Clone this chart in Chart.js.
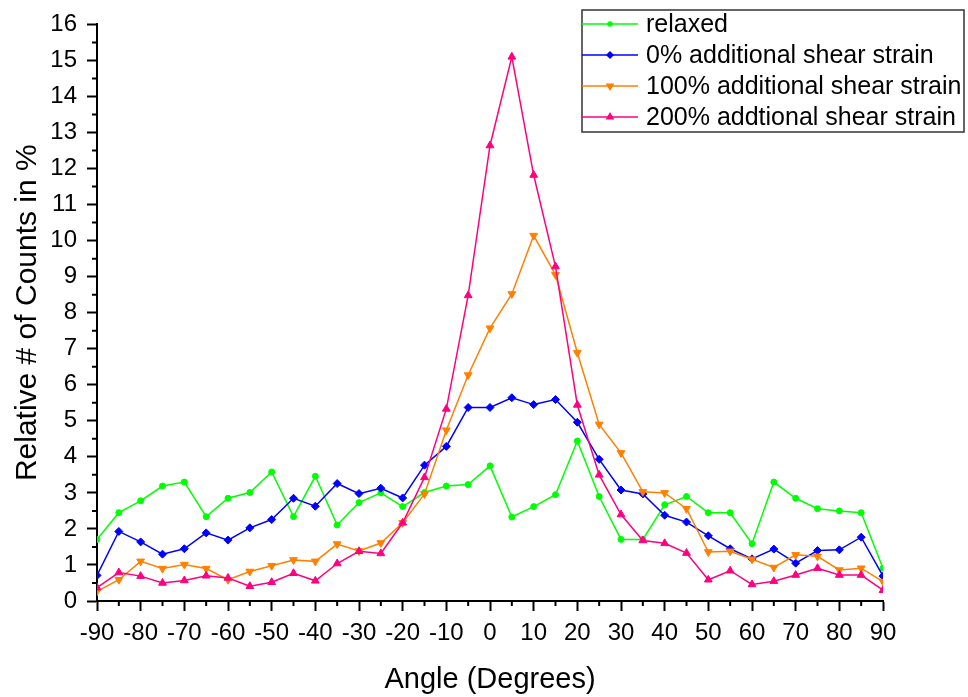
<!DOCTYPE html>
<html>
<head>
<meta charset="utf-8">
<script src="https://cdn.jsdelivr.net/npm/chart.js@4/dist/chart.umd.min.js"></script>
<style>
  html, body { margin: 0; padding: 0; background: #fff; }
  #wrap { width: 968px; height: 697px; }
</style>
</head>
<body>
<div id="wrap"><canvas id="myChart" width="968" height="697"></canvas></div>
<script>
// angles in degrees, one point every 5
var angles = [-90, -85, -80, -75, -70, -65, -60, -55, -50, -45, -40, -35,
  -30, -25, -20, -15, -10, -5, 0, 5, 10, 15, 20, 25,
  30, 35, 40, 45, 50, 55, 60, 65, 70, 75, 80, 85, 90];

var relaxed = [1.71, 2.45, 2.78, 3.19, 3.30, 2.34, 2.85, 3.01, 3.58, 2.34, 3.46, 2.11,
  2.73, 3.00, 2.62, 3.01, 3.19, 3.23, 3.75, 2.33, 2.62, 2.95, 4.44, 2.90,
  1.71, 1.71, 2.67, 2.90, 2.45, 2.45, 1.59, 3.30, 2.85, 2.56, 2.50, 2.45, 0.91];

var shear0 = [0.71, 1.93, 1.64, 1.30, 1.45, 1.89, 1.69, 2.03, 2.26, 2.85, 2.63, 3.26,
  2.98, 3.13, 2.86, 3.77, 4.29, 5.37, 5.37, 5.64, 5.45, 5.59, 4.96, 3.93,
  3.08, 2.97, 2.38, 2.19, 1.81, 1.45, 1.17, 1.44, 1.05, 1.40, 1.42, 1.77, 0.69];

var shear100 = [0.27, 0.59, 1.10, 0.90, 1.01, 0.90, 0.59, 0.82, 0.98, 1.14, 1.10, 1.58,
  1.39, 1.61, 2.17, 2.97, 4.74, 6.27, 7.57, 8.52, 10.14, 9.05, 6.89, 4.90,
  4.11, 3.03, 3.00, 2.56, 1.36, 1.38, 1.16, 0.93, 1.28, 1.24, 0.86, 0.91, 0.54];

var shear200 = [0.37, 0.79, 0.69, 0.50, 0.57, 0.70, 0.64, 0.41, 0.52, 0.77, 0.56, 1.04,
  1.38, 1.32, 2.17, 3.43, 5.33, 8.48, 12.64, 15.10, 11.82, 9.28, 5.44, 3.50,
  2.40, 1.68, 1.60, 1.33, 0.59, 0.84, 0.46, 0.55, 0.72, 0.91, 0.72, 0.72, 0.30];

var seriesNames = ["relaxed", "0% additional shear strain",
  "100% additional shear strain", "200% addtional shear strain"];

var FONT = "'Liberation Sans', Arial, sans-serif";

function pts(ys) {
  return angles.map(function (a, i) { return { x: a, y: ys[i] }; });
}

function makeSet(label, ys, color, style, radius, rot, order) {
  return {
    label: label,
    data: pts(ys),
    borderColor: color,
    backgroundColor: color,
    borderWidth: 1.5,
    pointStyle: style,
    pointRadius: radius,
    pointRotation: rot,
    pointBorderWidth: 1,
    pointBackgroundColor: color,
    pointBorderColor: color,
    tension: 0,
    order: order
  };
}

// minor ticks (Chart.js can't do two tick lengths)
var minorTicks = {
  id: "minorTicks",
  afterDraw: function (chart) {
    var ctx = chart.ctx;
    var xs = chart.scales.x, ys = chart.scales.y;
    ctx.save();
    ctx.strokeStyle = "#000";
    ctx.lineWidth = 2;
    ctx.beginPath();
    for (var v = -85; v <= 85; v += 10) {
      var px = xs.getPixelForValue(v);
      ctx.moveTo(px, xs.top);
      ctx.lineTo(px, xs.top + 5);
    }
    for (var w = 0.5; w < 16; w += 1) {
      var py = ys.getPixelForValue(w);
      ctx.moveTo(ys.right, py);
      ctx.lineTo(ys.right - 5, py);
    }
    ctx.stroke();
    ctx.restore();
  }
};

// legend box in the top right corner, like the original
var boxLegend = {
  id: "boxLegend",
  afterDraw: function (chart) {
    var ctx = chart.ctx;
    var x0 = 582, y0 = 10, w = 382, h = 122;
    ctx.save();
    ctx.fillStyle = "#fff";
    ctx.fillRect(x0, y0, w, h);
    ctx.strokeStyle = "#333";
    ctx.lineWidth = 1.5;
    ctx.strokeRect(x0, y0, w, h);
    chart.data.datasets.forEach(function (ds, i) {
      var cy = y0 + 14 + i * 31;
      ctx.strokeStyle = ds.borderColor;
      ctx.lineWidth = 1.5;
      ctx.beginPath();
      ctx.moveTo(x0, cy);
      ctx.lineTo(x0 + 56, cy);
      ctx.stroke();
      ctx.fillStyle = ds.borderColor;
      Chart.helpers.drawPoint(ctx, {
        pointStyle: ds.pointStyle, radius: ds.pointRadius - 1,
        rotation: ds.pointRotation, borderWidth: 1
      }, x0 + 28, cy);
      ctx.fillStyle = "#000";
      ctx.font = "25px " + FONT;
      ctx.textBaseline = "middle";
      ctx.textAlign = "left";
      ctx.fillText(ds.label, x0 + 64, cy + 1);
    });
    ctx.restore();
  }
};

var ctx = document.getElementById("myChart").getContext("2d");
var myChart = new Chart(ctx, {
  type: "line",
  data: {
    datasets: [
      makeSet(seriesNames[0], relaxed, "#00ff00", "circle", 3, 0, 4),
      makeSet(seriesNames[1], shear0, "#0000ff", "rectRot", 4, 0, 3),
      makeSet(seriesNames[2], shear100, "#ff8000", "triangle", 4.5, 180, 2),
      makeSet(seriesNames[3], shear200, "#ff0080", "triangle", 4.5, 0, 1)
    ]
  },
  plugins: [minorTicks, boxLegend],
  options: {
    responsive: false,
    animation: false,
    layout: { padding: { left: 0, right: 85, top: 22, bottom: 0 } },
    plugins: { legend: { display: false }, tooltip: { enabled: false } },
    scales: {
      x: {
        type: "linear",
        min: -90,
        max: 90,
        afterFit: function (s) { s.height = 96; },
        ticks: { stepSize: 10, padding: 8, color: "#000", font: { family: FONT, size: 24 } },
        grid: { drawOnChartArea: false, drawTicks: true, tickLength: 10, tickWidth: 2, tickColor: "#000" },
        border: { display: true, color: "#000", width: 2 },
        title: {
          display: true, text: "Angle (Degrees)", color: "#000",
          font: { family: FONT, size: 29 }, padding: { top: 0, bottom: 0 }
        }
      },
      y: {
        min: 0,
        max: 16,
        afterFit: function (s) { s.width = 97; },
        ticks: { stepSize: 1, padding: 10, color: "#000", font: { family: FONT, size: 24 } },
        grid: { drawOnChartArea: false, drawTicks: true, tickLength: 10, tickWidth: 2, tickColor: "#000" },
        border: { display: true, color: "#000", width: 2 },
        title: {
          display: true, text: "Relative # of Counts in %", color: "#000",
          font: { family: FONT, size: 30 }, padding: { top: 10, bottom: 0 }
        }
      }
    }
  }
});
</script>
</body>
</html>
